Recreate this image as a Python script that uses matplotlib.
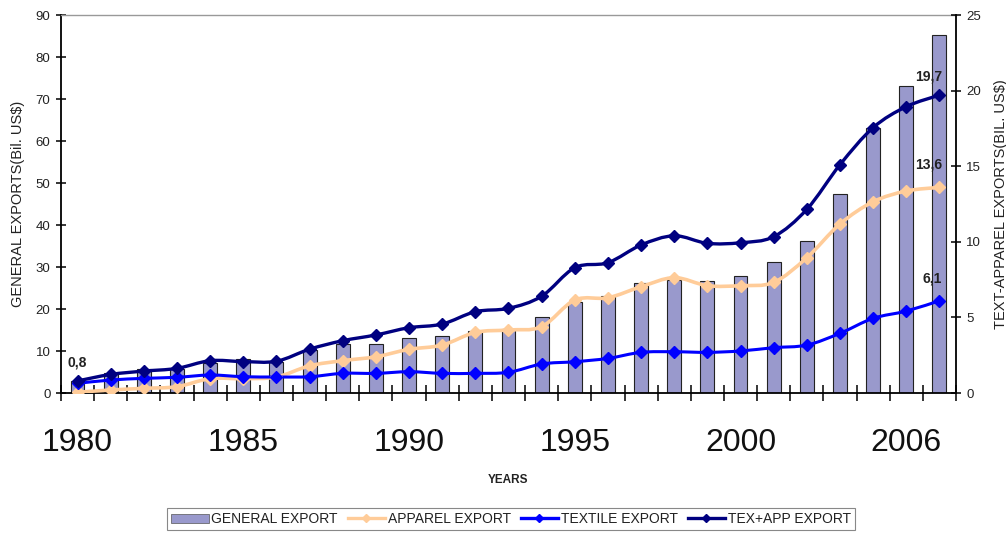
import numpy as np
import matplotlib
matplotlib.use("Agg")
import matplotlib.pyplot as plt
from matplotlib.path import Path
from matplotlib.patches import PathPatch, Patch
from matplotlib.lines import Line2D

plt.rcParams['font.family'] = ['Liberation Sans', 'DejaVu Sans']

years = list(range(1980, 2007))
xtick_pos = [0, 5, 10, 15, 20, 25]
xtick_labels = ['1980', '1985', '1990', '1995', '2000', '2006']

general_export = [2.9, 4.7, 5.7, 5.7, 7.1, 8.0, 7.5, 10.2, 11.7, 11.6, 13.0, 13.6, 14.7,
                  15.3, 18.1, 21.6, 23.2, 26.3, 27.0, 26.6, 27.8, 31.3, 36.1, 47.3, 63.2,
                  73.1, 85.3]
apparel_export = [0.05, 0.2, 0.31, 0.42, 0.95, 0.95, 1.06, 1.8, 2.14, 2.4, 2.89, 3.17, 4.01,
                  4.17, 4.39, 6.15, 6.3, 7.03, 7.63, 7.1, 7.1, 7.32, 8.95, 11.18, 12.65,
                  13.36, 13.6]
textile_export = [0.64, 0.86, 0.97, 1.04, 1.19, 1.08, 1.06, 1.08, 1.3, 1.3, 1.41, 1.3, 1.3,
                  1.37, 1.92, 2.07, 2.29, 2.69, 2.73, 2.69, 2.78, 3.0, 3.17, 3.95, 4.94,
                  5.42, 6.1]
texapp_export = [0.8, 1.23, 1.45, 1.63, 2.14, 2.08, 2.1, 2.9, 3.46, 3.84, 4.32, 4.56, 5.38,
                 5.6, 6.4, 8.29, 8.62, 9.79, 10.4, 9.9, 9.94, 10.34, 12.15, 15.1, 17.55,
                 18.94, 19.7]

C_BAR = '#9999cc'
C_APP = '#ffcc99'
C_TEX = '#0000ff'
C_TA = '#000080'


def smooth_path(xs, ys):
    n = len(xs)
    verts = [(xs[0], ys[0])]
    codes = [Path.MOVETO]
    for i in range(n - 1):
        p0 = i - 1 if i > 0 else i
        p3 = i + 2 if i + 2 < n else i + 1
        c1 = (xs[i] + (xs[i + 1] - xs[p0]) / 6.0, ys[i] + (ys[i + 1] - ys[p0]) / 6.0)
        c2 = (xs[i + 1] - (xs[p3] - xs[i]) / 6.0, ys[i + 1] - (ys[p3] - ys[i]) / 6.0)
        verts += [c1, c2, (xs[i + 1], ys[i + 1])]
        codes += [Path.CURVE4] * 3
    return Path(verts, codes)


fig = plt.figure(figsize=(10.06, 5.34), dpi=100)
ax = fig.add_axes([0.0606, 0.264, 0.8897, 0.7079])
x = np.arange(len(years))

ax.bar(x, general_export, width=0.42, color=C_BAR, edgecolor='#222222', linewidth=0.8, zorder=1)
ax.set_xlim(-0.5, len(years) - 0.5)
ax.set_ylim(0, 90)
ax.set_yticks(range(0, 91, 10))
ax.set_xticks(xtick_pos)
ax.set_xticklabels(xtick_labels, fontsize=23)
ax.set_xticks(np.arange(-0.5, len(years), 1), minor=True)
ax.tick_params(axis='x', which='major', length=0, pad=25, colors='#111111')
ax.tick_params(axis='x', which='minor', direction='inout', length=12, width=1.1, color='black')
ax.tick_params(axis='y', direction='inout', length=7, width=1.1, labelsize=9.5,
               labelcolor='#222222', pad=4)
ax.spines['top'].set_color('#999999')
ax.spines['top'].set_linewidth(1.0)
ax.spines['right'].set_visible(False)
ax.spines['left'].set_linewidth(1.3)
ax.spines['bottom'].set_linewidth(1.3)
ax.set_ylabel('GENERAL EXPORTS(Bil. US$)', fontsize=10.5, color='#222222', labelpad=8)
ax.set_xlabel('YEARS', fontsize=8.5, fontweight='bold', color='#222222', labelpad=12)

ax2 = ax.twinx()
ax2.set_ylim(0, 25)
ax2.set_yticks(range(0, 26, 5))
ax2.tick_params(axis='y', direction='inout', length=7, width=1.1, labelsize=9.5,
                labelcolor='#222222', pad=4)
for s in ['top', 'left', 'bottom']:
    ax2.spines[s].set_visible(False)
ax2.spines['right'].set_linewidth(1.3)
ax2.set_ylabel('TEXT-APPAREL EXPORTS(BIL. US$)', fontsize=10.5, color='#222222', labelpad=9)

for ys, col, lw in [(apparel_export, C_APP, 2.6), (textile_export, C_TEX, 2.2),
                    (texapp_export, C_TA, 2.4)]:
    ax2.add_patch(PathPatch(smooth_path(list(x), ys), facecolor='none', edgecolor=col,
                            linewidth=lw, capstyle='round', joinstyle='round', zorder=3))
    ax2.plot(x, ys, linestyle='none', marker='D', markersize=6.5, color=col, zorder=4)

ann = dict(textcoords='offset points', fontsize=10, fontweight='bold', color='#222222',
           va='center')
ax2.annotate('0,8', xy=(x[0], texapp_export[0]), xytext=(0, 13.5), ha='center', **ann)
ax2.annotate('19,7', xy=(x[-1], texapp_export[-1]), xytext=(2, 13.7), ha='right', **ann)
ax2.annotate('13,6', xy=(x[-1], apparel_export[-1]), xytext=(2, 16.8), ha='right', **ann)
ax2.annotate('6,1', xy=(x[-1], textile_export[-1]), xytext=(2, 16.4), ha='right', **ann)

handles = [Patch(facecolor=C_BAR, edgecolor='#555555', linewidth=0.5),
           Line2D([], [], color=C_APP, lw=2.4, marker='D', markersize=4),
           Line2D([], [], color=C_TEX, lw=2.4, marker='D', markersize=4),
           Line2D([], [], color=C_TA, lw=2.4, marker='D', markersize=4)]
labels = ['GENERAL EXPORT', 'APPAREL EXPORT', 'TEXTILE EXPORT', 'TEX+APP EXPORT']
leg = fig.legend(handles, labels, loc='center', bbox_to_anchor=(0.508, 0.028), ncol=4,
                 fontsize=10, frameon=True, fancybox=False, framealpha=1,
                 edgecolor='#888888', handlelength=2.7, handletextpad=0.2,
                 columnspacing=0.7, borderpad=0.3, handleheight=0.6, borderaxespad=0)
leg.get_frame().set_linewidth(0.8)
for t in leg.get_texts():
    t.set_color('#222222')

fig.savefig('out.png', dpi=100)
